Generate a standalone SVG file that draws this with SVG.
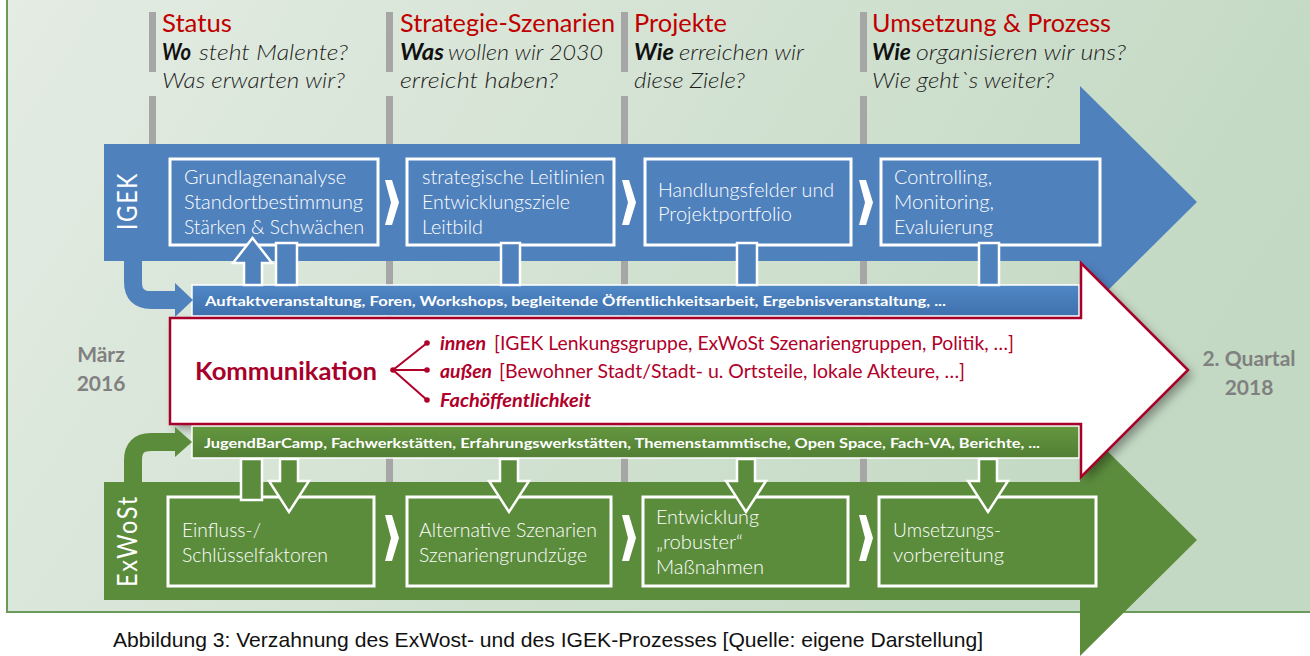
<svg xmlns="http://www.w3.org/2000/svg" width="1310" height="656" viewBox="0 0 1310 656">
<defs>
<linearGradient id="bg" x1="0" y1="0" x2="1" y2="0.3">
<stop offset="0" stop-color="#e4ece3"/>
<stop offset="1" stop-color="#c3d9c3"/>
</linearGradient>
<linearGradient id="blueBar" x1="0" y1="0" x2="0" y2="1">
<stop offset="0" stop-color="#5088c6"/>
<stop offset="1" stop-color="#3f70ad"/>
</linearGradient>
<linearGradient id="greenBar" x1="0" y1="0" x2="0" y2="1">
<stop offset="0" stop-color="#64973f"/>
<stop offset="1" stop-color="#527f34"/>
</linearGradient>
<filter id="shadow" x="-10%" y="-20%" width="130%" height="150%">
<feDropShadow dx="5" dy="5" stdDeviation="5" flood-color="#000" flood-opacity="0.35"/>
</filter>
<style>
.bar{fill:#a6a6a6}
.head{font-family:Lato,"Open Sans",sans-serif;font-size:25px;fill:#c00000}
.q{font-family:Lato,"Open Sans",sans-serif;font-size:22px;font-style:italic;font-weight:300;fill:#1e1e1e}
.qb{font-family:Lato,"Open Sans",sans-serif;font-size:22px;font-style:italic;font-weight:700;fill:#111}
.blue{fill:#4f81bd}
.green{fill:#5b8c3c}
.box{fill:none;stroke:#fff;stroke-width:3}
.btxt{font-family:Lato,"Open Sans",sans-serif;font-size:19px;font-weight:300;fill:#fff}
.lbl{font-family:Lato,"Open Sans",sans-serif;font-size:27px;fill:#fff;letter-spacing:2px}
.chev{fill:#fff}
.cb{fill:#4f81bd;stroke:#fff;stroke-width:2.5}
.cg{fill:#5b8c3c;stroke:#fff;stroke-width:2.5}
.band{font-family:Lato,"Open Sans",sans-serif;font-size:14px;font-weight:700;fill:#fff}
.kom{font-family:Lato,"Open Sans",sans-serif;font-size:25px;font-weight:700;fill:#a8002a}
.ct{font-family:Lato,"Open Sans",sans-serif;font-size:19px;fill:#b0002a}
.ctb{font-family:Lato,"Open Sans",sans-serif;font-size:19px;font-weight:700;font-style:italic;fill:#b0002a}
.date{font-family:Lato,"Open Sans",sans-serif;font-size:21px;font-weight:700;fill:#808080;text-anchor:middle}
.cap{font-family:"Liberation Sans",Arial,sans-serif;font-size:21px;fill:#111}
</style>
</defs>

<!-- background panel -->
<rect x="7" y="0" width="1303" height="612" fill="url(#bg)"/>
<path d="M7,0 V612 H1310" fill="none" stroke="#6a9a5c" stroke-width="2"/>

<!-- phase separator bars -->
<g id="separators">
<rect class="bar" x="149" y="12" width="7" height="60"/>
<rect class="bar" x="149" y="96" width="7" height="50"/>
<rect class="bar" x="386" y="12" width="7" height="60"/>
<rect class="bar" x="386" y="96" width="7" height="390"/>
<rect class="bar" x="621" y="12" width="7" height="60"/>
<rect class="bar" x="621" y="96" width="7" height="390"/>
<rect class="bar" x="860" y="12" width="7" height="60"/>
<rect class="bar" x="860" y="96" width="7" height="390"/>
</g>

<!-- phase headings -->
<g id="phase-status">
<text class="head" x="162" y="32" textLength="70" lengthAdjust="spacingAndGlyphs">Status</text>
<text class="qb" x="162" y="60" textLength="29" lengthAdjust="spacingAndGlyphs">Wo</text>
<text class="q" x="199" y="60" textLength="149" lengthAdjust="spacingAndGlyphs">steht Malente?</text>
<text class="q" x="162" y="88" textLength="183" lengthAdjust="spacingAndGlyphs">Was erwarten wir?</text>
</g>
<g id="phase-strategie">
<text class="head" x="400" y="32" textLength="215" lengthAdjust="spacingAndGlyphs">Strategie-Szenarien</text>
<text class="qb" x="400" y="60" textLength="44" lengthAdjust="spacingAndGlyphs">Was</text>
<text class="q" x="448" y="60" textLength="155" lengthAdjust="spacingAndGlyphs">wollen wir 2030</text>
<text class="q" x="400" y="88" textLength="158" lengthAdjust="spacingAndGlyphs">erreicht haben?</text>
</g>
<g id="phase-projekte">
<text class="head" x="634" y="32" textLength="93" lengthAdjust="spacingAndGlyphs">Projekte</text>
<text class="qb" x="634" y="60" textLength="40" lengthAdjust="spacingAndGlyphs">Wie</text>
<text class="q" x="679" y="60" textLength="125" lengthAdjust="spacingAndGlyphs">erreichen wir</text>
<text class="q" x="634" y="88" textLength="111" lengthAdjust="spacingAndGlyphs">diese Ziele?</text>
</g>
<g id="phase-umsetzung">
<text class="head" x="872" y="32" textLength="239" lengthAdjust="spacingAndGlyphs">Umsetzung &amp; Prozess</text>
<text class="qb" x="872" y="60" textLength="39" lengthAdjust="spacingAndGlyphs">Wie</text>
<text class="q" x="916" y="60" textLength="210" lengthAdjust="spacingAndGlyphs">organisieren wir uns?</text>
<text class="q" x="872" y="88" textLength="182" lengthAdjust="spacingAndGlyphs">Wie geht`s weiter?</text>
</g>

<!-- IGEK process arrow -->
<g id="igek">
<path class="blue" d="M104,144 H1080 V86 L1197,202 L1080,318 V261 H104 Z"/>
<text class="lbl" transform="translate(137,201) rotate(-90)" text-anchor="middle" textLength="58" lengthAdjust="spacingAndGlyphs">IGEK</text>
</g>

<!-- ExWoSt process arrow -->
<g id="exwost">
<path class="green" d="M104,482 H1080 V424 L1197,540 L1080,656 V600 H104 Z"/>
<text class="lbl" transform="translate(137,541) rotate(-90)" text-anchor="middle" textLength="92" lengthAdjust="spacingAndGlyphs">ExWoSt</text>
</g>

<!-- Kommunikation arrow -->
<g id="kommunikation">
<path d="M170,318 H1081 V263 L1188,370 L1081,477 V424 H170 Z" fill="#fff" filter="url(#shadow)"/>
<rect id="igek-formate" x="192" y="285" width="887" height="31" fill="url(#blueBar)" stroke="#fff" stroke-width="1.5"/>
<rect id="exwost-formate" x="192" y="426" width="887" height="32" fill="url(#greenBar)" stroke="#fff" stroke-width="1.5"/>
<path d="M170,318 H1081 V263 L1188,370 L1081,477 V424 H170 Z" fill="none" stroke="#a8002a" stroke-width="2.5"/>
<text class="band" x="205" y="306" textLength="741" lengthAdjust="spacingAndGlyphs">Auftaktveranstaltung, Foren, Workshops, begleitende Öffentlichkeitsarbeit, Ergebnisveranstaltung, ...</text>
<text class="band" x="204" y="448" textLength="836" lengthAdjust="spacingAndGlyphs">JugendBarCamp, Fachwerkstätten, Erfahrungswerkstätten, Themenstammtische, Open Space, Fach-VA, Berichte, ...</text>
<text class="kom" x="195" y="380" textLength="182" lengthAdjust="spacingAndGlyphs">Kommunikation</text>
<g stroke="#b0002a" stroke-width="2" fill="#b0002a">
<line x1="393" y1="370" x2="427" y2="343"/>
<line x1="393" y1="370" x2="427" y2="370"/>
<line x1="393" y1="370" x2="427" y2="400"/>
<circle cx="393" cy="370" r="2.8" stroke="none"/>
<circle cx="427" cy="343" r="2.8" stroke="none"/>
<circle cx="427" cy="370" r="2.8" stroke="none"/>
<circle cx="427" cy="400" r="2.8" stroke="none"/>
</g>
<text class="ctb" x="440" y="350" textLength="46" lengthAdjust="spacingAndGlyphs">innen</text>
<text class="ct" x="494" y="350" textLength="520" lengthAdjust="spacingAndGlyphs">[IGEK Lenkungsgruppe, ExWoSt Szenariengruppen, Politik, …]</text>
<text class="ctb" x="440" y="378" textLength="52" lengthAdjust="spacingAndGlyphs">außen</text>
<text class="ct" x="499" y="378" textLength="466" lengthAdjust="spacingAndGlyphs">[Bewohner Stadt/Stadt- u. Ortsteile, lokale Akteure, …]</text>
<text class="ctb" x="440" y="407" textLength="151" lengthAdjust="spacingAndGlyphs">Fachöffentlichkeit</text>
</g>

<!-- dates -->
<g id="start-date">
<text class="date" x="101" y="362">März</text>
<text class="date" x="101" y="391">2016</text>
</g>
<g id="end-date">
<text class="date" x="1249" y="366">2. Quartal</text>
<text class="date" x="1249" y="395">2018</text>
</g>

<!-- IGEK boxes -->
<g id="igek-1">
<rect class="box" x="170" y="159" width="208" height="86"/>
<text class="btxt" x="184" y="184" textLength="162" lengthAdjust="spacingAndGlyphs">Grundlagenanalyse</text>
<text class="btxt" x="184" y="209" textLength="179" lengthAdjust="spacingAndGlyphs">Standortbestimmung</text>
<text class="btxt" x="184" y="234" textLength="180" lengthAdjust="spacingAndGlyphs">Stärken &amp; Schwächen</text>
</g>
<g id="igek-2">
<rect class="box" x="407" y="159" width="207" height="86"/>
<text class="btxt" x="422" y="184" textLength="183" lengthAdjust="spacingAndGlyphs">strategische Leitlinien</text>
<text class="btxt" x="422" y="209" textLength="148" lengthAdjust="spacingAndGlyphs">Entwicklungsziele</text>
<text class="btxt" x="422" y="234" textLength="61" lengthAdjust="spacingAndGlyphs">Leitbild</text>
</g>
<g id="igek-3">
<rect class="box" x="645" y="159" width="206" height="86"/>
<text class="btxt" x="658" y="197" textLength="176" lengthAdjust="spacingAndGlyphs">Handlungsfelder und</text>
<text class="btxt" x="658" y="221" textLength="134" lengthAdjust="spacingAndGlyphs">Projektportfolio</text>
</g>
<g id="igek-4">
<rect class="box" x="881" y="159" width="219" height="86"/>
<text class="btxt" x="894" y="184" textLength="98" lengthAdjust="spacingAndGlyphs">Controlling,</text>
<text class="btxt" x="894" y="209" textLength="100" lengthAdjust="spacingAndGlyphs">Monitoring,</text>
<text class="btxt" x="894" y="234" textLength="99" lengthAdjust="spacingAndGlyphs">Evaluierung</text>
</g>

<!-- ExWoSt boxes -->
<g id="exwost-1">
<rect class="box" x="168" y="497" width="206" height="89"/>
<text class="btxt" x="182" y="537" textLength="79" lengthAdjust="spacingAndGlyphs">Einfluss-/</text>
<text class="btxt" x="182" y="562" textLength="146" lengthAdjust="spacingAndGlyphs">Schlüsselfaktoren</text>
</g>
<g id="exwost-2">
<rect class="box" x="407" y="497" width="204" height="89"/>
<text class="btxt" x="419" y="537" textLength="178" lengthAdjust="spacingAndGlyphs">Alternative Szenarien</text>
<text class="btxt" x="419" y="562" textLength="168" lengthAdjust="spacingAndGlyphs">Szenariengrundzüge</text>
</g>
<g id="exwost-3">
<rect class="box" x="643" y="497" width="205" height="89"/>
<text class="btxt" x="656" y="524" textLength="103" lengthAdjust="spacingAndGlyphs">Entwicklung</text>
<text class="btxt" x="656" y="549" textLength="87" lengthAdjust="spacingAndGlyphs">„robuster“</text>
<text class="btxt" x="656" y="574" textLength="108" lengthAdjust="spacingAndGlyphs">Maßnahmen</text>
</g>
<g id="exwost-4">
<rect class="box" x="879" y="497" width="217" height="89"/>
<text class="btxt" x="893" y="537" textLength="108" lengthAdjust="spacingAndGlyphs">Umsetzungs-</text>
<text class="btxt" x="893" y="562" textLength="111" lengthAdjust="spacingAndGlyphs">vorbereitung</text>
</g>

<!-- connectors -->
<g id="connectors">
<!-- sequence chevrons -->
<polygon class="chev" points="385,180 392,180 399,202.5 392,225 385,225 391,202.5"/>
<polygon class="chev" points="622,180 629,180 636,202.5 629,225 622,225 628,202.5"/>
<polygon class="chev" points="859,180 866,180 873,202.5 866,225 859,225 865,202.5"/>
<polygon class="chev" points="385,515 392,515 399,538 392,561 385,561 391,538"/>
<polygon class="chev" points="622,515 629,515 636,538 629,561 622,561 628,538"/>
<polygon class="chev" points="859,515 866,515 873,538 866,561 859,561 865,538"/>
<!-- curved feeds into communication bars -->
<path d="M133,255 V282 Q133,300 151,300 H178" fill="none" stroke="#4f81bd" stroke-width="18"/>
<polygon class="blue" points="175,283 193,300 175,317"/>
<path d="M133,488 V460 Q133,442 151,442 H178" fill="none" stroke="#5b8c3c" stroke-width="18"/>
<polygon class="green" points="175,427 192,442 175,457"/>
<!-- IGEK links -->
<polygon class="cb" points="244,285 244,263 233,263 252.5,238 272,263 262,263 262,285"/>
<rect class="cb" x="276" y="243" width="21" height="42"/>
<rect class="cb" x="501" y="243" width="19" height="42"/>
<rect class="cb" x="737" y="243" width="20" height="42"/>
<rect class="cb" x="979" y="243" width="20" height="42"/>
<!-- ExWoSt links -->
<rect class="cg" x="241" y="459" width="21" height="41"/>
<polygon class="cg" points="280,459 298,459 298,481 309,481 289,512 269,481 280,481"/>
<polygon class="cg" points="500,459 518,459 518,481 529,481 509,512 489,481 500,481"/>
<polygon class="cg" points="737,459 755,459 755,481 766,481 746,512 726,481 737,481"/>
<polygon class="cg" points="979,459 997,459 997,481 1008,481 988,512 968,481 979,481"/>
</g>

<!-- caption -->
<text class="cap" x="113" y="647" textLength="870" lengthAdjust="spacingAndGlyphs">Abbildung 3: Verzahnung des ExWost- und des IGEK-Prozesses [Quelle: eigene Darstellung]</text>
</svg>
